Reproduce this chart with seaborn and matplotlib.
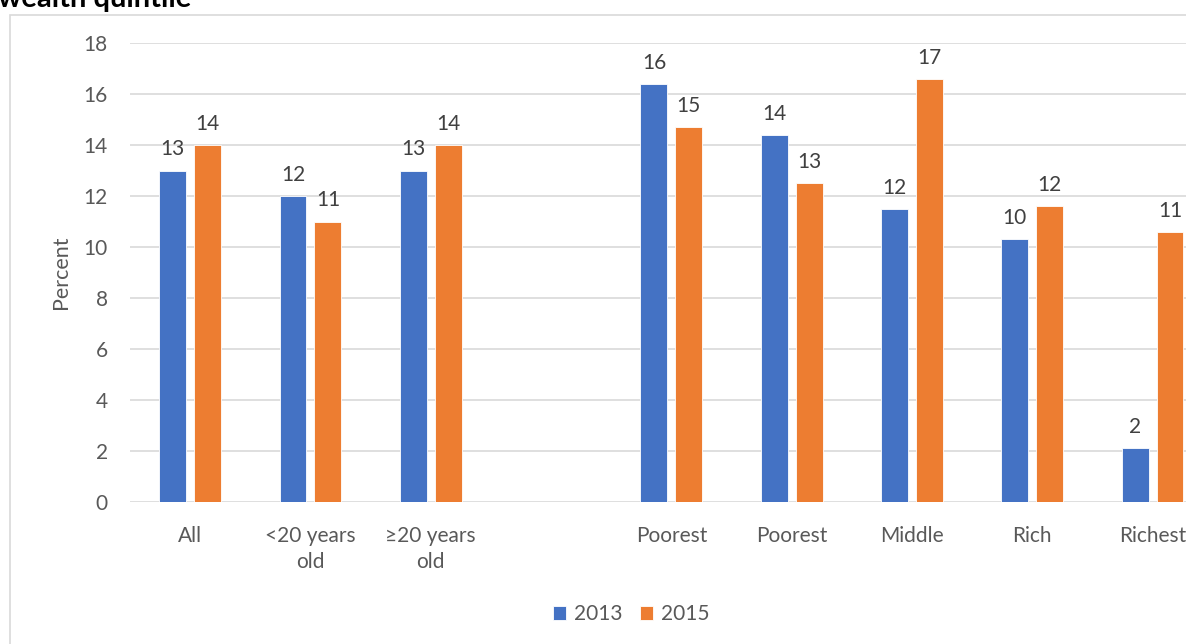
import numpy as np
import pandas as pd
import matplotlib
matplotlib.use("Agg")
import matplotlib.pyplot as plt
import seaborn as sns
from matplotlib.patches import Rectangle

# data
groups = ["all", "lt20", "ge20", "gap", "q1", "q2", "q3", "q4", "q5"]
tick_labels = ["All", "<20 years\nold", "\u226520 years\nold", "", "Poorest",
               "Poorest", "Middle", "Rich", "Richest"]
years = ["2013", "2015"]
pct_2013 = [13, 12, 13, np.nan, 16.4, 14.4, 11.5, 10.3, 2.1]
pct_2015 = [14, 11, 14, np.nan, 14.7, 12.5, 16.6, 11.6, 10.6]
colors = ["#4472C4", "#ED7D31"]

df = pd.DataFrame({
    "group": groups * 2,
    "year": [years[0]] * len(groups) + [years[1]] * len(groups),
    "percent": pct_2013 + pct_2015,
}).dropna()

sns.set_theme(style="white")
plt.rcParams["font.family"] = ["Lato", "DejaVu Sans"]

W, H = 1186, 644
fig = plt.figure(figsize=(W / 100, H / 100), dpi=100)
ax = fig.add_axes([130 / W, 1 - 502 / H, 9 * 120.3 / W, (502 - 43) / H])

sns.barplot(data=df, x="group", y="percent", hue="year", order=groups,
            hue_order=years, palette=colors, saturation=1, errorbar=None,
            width=0.58, gap=0.23, linewidth=0.6, ax=ax)

for c in ax.containers:
    ax.bar_label(c, labels=[f"{int(h + 0.5)}" for h in c.datavalues],
                 padding=8, fontsize=15, color="#404040")

ax.set_ylim(0, 18)
ax.set_xlim(-0.5, 8.5)
ax.set_yticks(range(0, 19, 2))
ax.set_xticks(range(len(groups)))
ax.set_xticklabels(tick_labels, linespacing=1.4)
ax.yaxis.grid(True, color="#d9d9d9", lw=1.2)
ax.set_axisbelow(True)
for s in ax.spines.values():
    s.set_visible(False)
ax.tick_params(axis="y", length=0, pad=16, labelsize=15, labelcolor="#595959")
ax.tick_params(axis="x", length=0, pad=17, labelsize=15, labelcolor="#595959")
ax.set_xlabel("")
ax.set_ylabel("Percent", fontsize=15.5, color="#595959", labelpad=9)

handles, labels = ax.get_legend_handles_labels()
ax.get_legend().remove()
fig.legend(handles, labels, loc="center", bbox_to_anchor=(631 / W, 1 - 614 / H),
           ncol=2, frameon=False, fontsize=15, labelcolor="#595959",
           handlelength=0.65, handleheight=0.65, handletextpad=0.35,
           columnspacing=0.85)

# chart frame (cropped) and cut-off title
fig.patches.append(Rectangle((10 / W, -0.1), 1.2, 1 - 15 / H + 0.1,
                             transform=fig.transFigure, fill=False,
                             edgecolor="#d9d9d9", lw=1.2))
fig.text(-2 / W, 1 - 7 / H, "wealth quintile", fontsize=21, fontweight="bold",
         color="black", ha="left", va="baseline")

fig.savefig("out.png", dpi=100)
